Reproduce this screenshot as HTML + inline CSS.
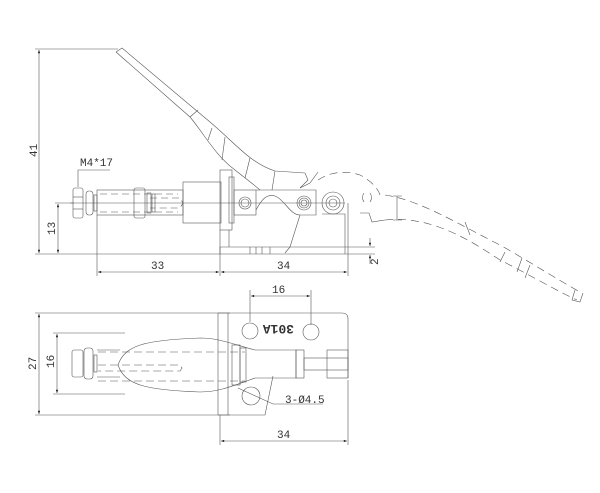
<!DOCTYPE html>
<html><head><meta charset="utf-8"><style>
html,body{margin:0;padding:0;background:#fff;width:600px;height:493px;overflow:hidden}
svg{display:block}
text{font-family:"Liberation Mono","DejaVu Sans Mono",monospace;font-size:11px;fill:#333}
</style></head><body>
<svg width="600" height="493" viewBox="0 0 600 493" xmlns="http://www.w3.org/2000/svg">
<defs>
<marker id="a" viewBox="0 0 8 6" refX="8" refY="3" markerWidth="6" markerHeight="4" orient="auto-start-reverse"><path d="M0,0L8,3L0,6z" fill="#222"/></marker>
</defs>
<g fill="none" stroke="#555" stroke-width="0.6">
<line x1="35" y1="49" x2="118" y2="49"/>
<line x1="35" y1="254" x2="375" y2="254"/>
<line x1="220" y1="247" x2="375" y2="247"/>
<line x1="55" y1="203" x2="74" y2="203"/>
<line x1="39" y1="50" x2="39" y2="253" marker-start="url(#a)" marker-end="url(#a)"/>
<line x1="58" y1="204" x2="58" y2="253" marker-start="url(#a)" marker-end="url(#a)"/>
<line x1="97" y1="215" x2="97" y2="276"/>
<line x1="220" y1="230" x2="220" y2="276"/>
<line x1="348" y1="203" x2="348" y2="276"/>
<line x1="98" y1="272" x2="219" y2="272" marker-start="url(#a)" marker-end="url(#a)"/>
<line x1="221" y1="272" x2="347" y2="272" marker-start="url(#a)" marker-end="url(#a)"/>
<line x1="370" y1="238" x2="370" y2="246" marker-end="url(#a)"/>
<line x1="370" y1="264" x2="370" y2="255" marker-end="url(#a)"/>
<polyline points="110,170 78,170 78,187"/>
<line x1="70" y1="203" x2="345" y2="203"/>
<rect x="73" y="188" width="10" height="30" rx="2"/>
<line x1="73" y1="197" x2="83" y2="197"/><line x1="73" y1="209" x2="83" y2="209"/>
<rect x="86" y="191" width="7" height="24" rx="3"/>
<rect x="94" y="195" width="3" height="16"/>
<rect x="97" y="190" width="86" height="25"/>
<rect x="134" y="188" width="11" height="30" rx="2"/>
<rect x="147" y="193" width="4" height="20"/><rect x="152" y="194" width="3" height="18"/>
<path d="M100,194 H178 M100,212 H178 M150,198 H180 L183,203 L180,208 H150" stroke-dasharray="7,4"/>
<rect x="183" y="182" width="38" height="41"/>
<rect x="220" y="170" width="12" height="60"/>
<rect x="229" y="177" width="5" height="46"/>
<line x1="229" y1="230" x2="229" y2="247"/>
<line x1="220" y1="247" x2="220" y2="254"/>
<path d="M250,247v7M256,247v7M262,247v7M270,247v7"/>
<rect x="234" y="190" width="22" height="25"/>
<path d="M256,190 H316 V215 H300 C290,215 285,200 275,196 C265,193 260,203 256,210"/>
<path d="M300,215 L290,247 L285,253"/>
<circle cx="245" cy="203" r="6"/><circle cx="245" cy="203" r="4"/>
<circle cx="304" cy="203" r="7"/><circle cx="304" cy="203" r="5"/><circle cx="304" cy="203" r="3"/>
<circle cx="333" cy="203" r="11"/><circle cx="333" cy="203" r="7"/><circle cx="333" cy="203" r="4"/>
<path d="M322,214 L345,214 L345,254"/>
<path d="M116,52 L122,48 L210,122 C235,143 250,163 275,171 L305,173 L308,180 L300,188"/>
<path d="M116,52 L190,117 C205,135 215,155 235,170 C245,178 252,183 260,190"/>
<path d="M190,117 L198,110 M208,140 L212,128 M222,160 L225,137 M245,178 L250,158 M275,171 L272,190"/>
<path d="M300,188 L310,183 L318,172"/>
<g stroke-dasharray="8,5">
<path d="M318,180 C330,172 345,170 360,175 C370,180 378,188 380,195"/>
<path d="M385,195 C420,200 460,225 500,245 C530,262 555,278 580,292"/>
<path d="M385,220 C430,215 470,240 500,260 C530,275 555,290 577,300"/>
</g>
<path d="M360,213 L369,213 L372,222 L385,220"/>
<path d="M397,196 V220 M393,196 H402 M393,220 H402"/>
<path d="M465,222 L470,235 M505,252 L500,262 M522,258 L517,272 M530,265 L525,278 M575,290 L572,300 L580,302 L583,293"/>
<path d="M364,193 c-2,3 -2,6 0,9 M370,193 c2,3 2,6 0,9"/>
<line x1="35" y1="313" x2="230" y2="313"/>
<line x1="35" y1="415" x2="230" y2="415"/>
<line x1="53" y1="333" x2="125" y2="333"/>
<line x1="53" y1="394" x2="125" y2="394"/>
<line x1="39" y1="314" x2="39" y2="414" marker-start="url(#a)" marker-end="url(#a)"/>
<line x1="57" y1="334" x2="57" y2="393" marker-start="url(#a)" marker-end="url(#a)"/>
<path d="M218,313 H342 Q348,313 348,319 V378"/>
<path d="M218,313 V415 H265 L273,376"/>
<line x1="228" y1="313" x2="228" y2="415"/>
<line x1="220" y1="415" x2="220" y2="445"/>
<line x1="348" y1="380" x2="348" y2="445"/>
<line x1="221" y1="441" x2="347" y2="441" marker-start="url(#a)" marker-end="url(#a)"/>
<line x1="250" y1="290" x2="250" y2="322"/>
<line x1="311" y1="290" x2="311" y2="325"/>
<line x1="251" y1="296" x2="310" y2="296" marker-start="url(#a)" marker-end="url(#a)"/>
<circle cx="250" cy="331" r="8"/><circle cx="311" cy="332" r="8"/><circle cx="251" cy="396" r="9"/>
<rect x="72" y="350" width="11" height="27" rx="2"/>
<rect x="84" y="348" width="9" height="31" rx="3"/>
<rect x="94" y="355" width="3" height="17"/>
<line x1="97" y1="350" x2="120" y2="350"/><line x1="97" y1="377" x2="120" y2="377"/>
<path d="M118,365 C125,345 145,340 200,338 C220,338 235,345 255,350 H296 V378 H255 C235,385 220,392 200,392 C145,390 125,385 118,365z"/>
<path d="M98,352 H245 M98,365 H180 L182,368 L180,371 H98 M98,381 H245" stroke-dasharray="8,4"/>
<rect x="232" y="345" width="8" height="40"/><rect x="240" y="348" width="6" height="34"/>
<rect x="296" y="350" width="8" height="28"/><rect x="304" y="358" width="44" height="12"/>
<rect x="327" y="350" width="21" height="28"/>
<path d="M238,388 L273,404 H323"/>
</g>
<text x="80" y="166">M4*17</text>
<text x="151" y="269">33</text>
<text x="277" y="269">34</text>
<text x="272" y="293">16</text>
<text x="277" y="438">34</text>
<text x="285" y="403">3-Ø4.5</text>
<text transform="translate(37,157) rotate(-90)">41</text>
<text transform="translate(55,235) rotate(-90)">13</text>
<text transform="translate(378,265) rotate(-90)">2</text>
<text transform="translate(36,370) rotate(-90)">27</text>
<text transform="translate(54,368) rotate(-90)">16</text>
<text transform="translate(294,325) rotate(180)" style="font-size:13px;font-weight:bold">301A</text>
</svg>
</body></html>
